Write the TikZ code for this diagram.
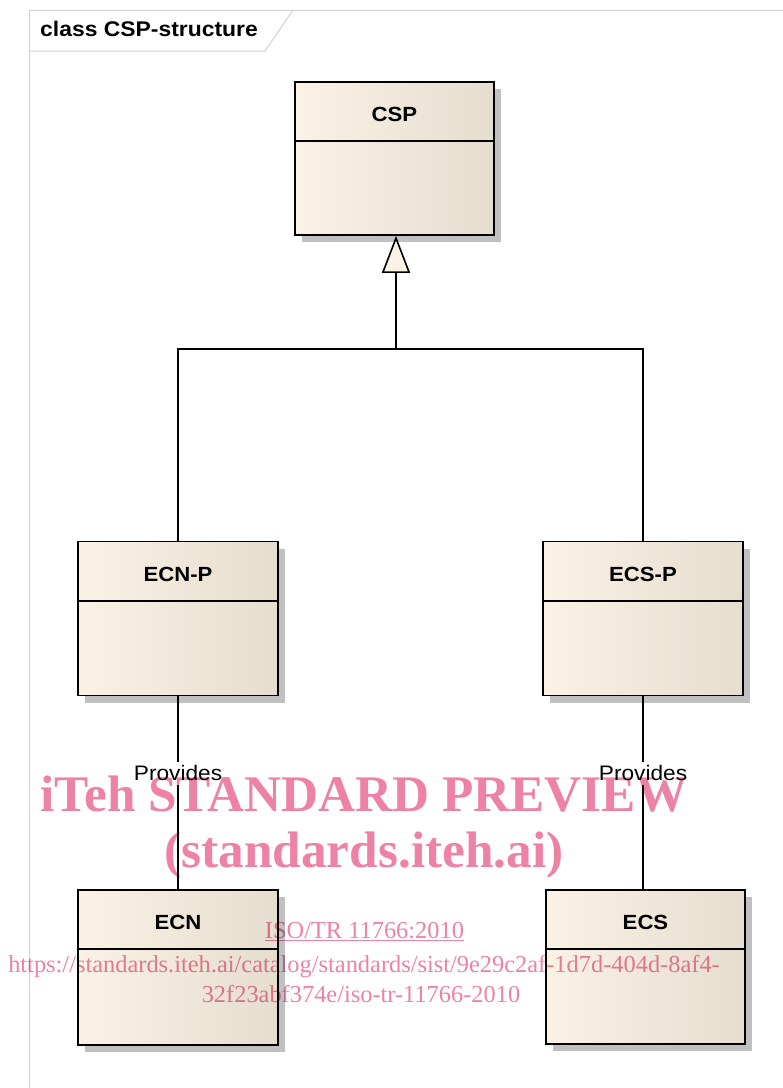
\documentclass[tikz,border=0pt]{standalone}
\usepackage{fontspec}
\setmainfont{Liberation Serif}
\newfontfamily\umlfont[FakeStretch=1.08]{Liberation Sans}
\usetikzlibrary{arrows.meta,shadows}

\definecolor{boxleft}{RGB}{250,242,228}
\definecolor{boxright}{RGB}{229,221,206}
\definecolor{shadowgray}{RGB}{192,192,192}
\definecolor{framegray}{RGB}{208,208,208}
\definecolor{wmpink}{RGB}{238,130,165}

\tikzset{
  frameline/.style={draw=framegray, line width=1pt},
  conn/.style={draw=black, line width=1.6pt},
  umlbox/.style={draw=black, line width=1.8pt, inner sep=0pt,
    left color=boxleft, right color=boxright,
    minimum width=200pt, minimum height=154pt,
    drop shadow={shadow xshift=7pt, shadow yshift=-7pt, fill=shadowgray, opacity=1}},
  umlname/.style={anchor=base, inner sep=0pt, font=\umlfont\bfseries\fontsize{20.5}{24}\selectfont},
  provlbl/.style={fill=white, inner xsep=2pt, inner ysep=4pt, font=\umlfont\fontsize{21}{25}\selectfont},
  wmbig/.style={anchor=base, inner sep=0pt, text=wmpink, font=\bfseries\fontsize{51.3}{56}\selectfont},
  wmsmall/.style={anchor=base, inner sep=0pt, text=wmpink, font=\fontsize{24.4}{28}\selectfont},
}

\begin{document}
\begin{tikzpicture}[x=1pt, y=-1pt]
\useasboundingbox (0,0) rectangle (783,1088);
\fill[white] (0,0) rectangle (783,1088);

% diagram frame with its name tab
\coordinate (frame-bl) at (29,1088);
\coordinate (frame-tl) at (29,10);
\coordinate (frame-tr) at (783,10);
\coordinate (tab-bl) at (29,51);
\coordinate (tab-br) at (265,51);
\coordinate (tab-tr) at (293,10);
\draw[frameline] (frame-bl) -- (frame-tl) -- (frame-tr);
\draw[frameline] (tab-bl) -- (tab-br) -- (tab-tr);
\node[anchor=base west, inner sep=0pt, font=\umlfont\bfseries\fontsize{21.2}{25}\selectfont] (frame-title) at (40,36) {class CSP-structure};

% classes
\node[umlbox, minimum width=199pt, minimum height=153pt] (csp) at (394.5,158.5) {};
\node[umlbox] (ecnp) at (178,618.5) {};
\node[umlbox] (ecsp) at (643,618.5) {};
\node[umlbox, minimum height=155pt] (ecn) at (178,967.5) {};
\node[umlbox, minimum width=199pt, minimum height=154pt] (ecs) at (645.5,967) {};

% class names and compartment dividers
\foreach \c/\t in {csp/CSP, ecnp/ECN-P, ecsp/ECS-P, ecn/ECN, ecs/ECS} {
  \node[umlname] (\c-name) at ([yshift=-40.7pt]\c.north) {\t};
  \draw[line width=1.8pt] ([yshift=-60pt]\c.north west) -- ([yshift=-60pt]\c.north east);
}

% generalization
\coordinate (gen) at (396,349);
\draw[conn] (ecnp.north) |- (gen);
\draw[conn] (ecsp.north) |- (gen);
\draw[conn, -{Triangle[open, fill=boxleft, length=37pt, width=28pt]}] (gen) -- (gen |- csp.south);

% associations
\draw[conn] (ecnp.south) -- node[provlbl, pos=0.40] (prov-ecn) {Provides} (ecn.north);
\draw[conn] (ecsp.south) -- node[provlbl, pos=0.40] (prov-ecs) {Provides} (ecsp.south |- ecs.north);

% preview stamp
\begin{scope}[blend mode=multiply]
\node[wmbig] (wm1) at (364,811) {iTeh STANDARD PREVIEW};
\node[wmbig] (wm2) at (364,867) {(standards.iteh.ai)};
\node[wmsmall] (wm3) at (364.5,938) {\underline{ISO/TR 11766:2010}};
\node[wmsmall] (wm4) at (364,972) {https://standards.iteh.ai/catalog/standards/sist/9e29c2af-1d7d-404d-8af4-};
\node[wmsmall] (wm5) at (361,1002) {32f23abf374e/iso-tr-11766-2010};
\end{scope}
\end{tikzpicture}
\end{document}
